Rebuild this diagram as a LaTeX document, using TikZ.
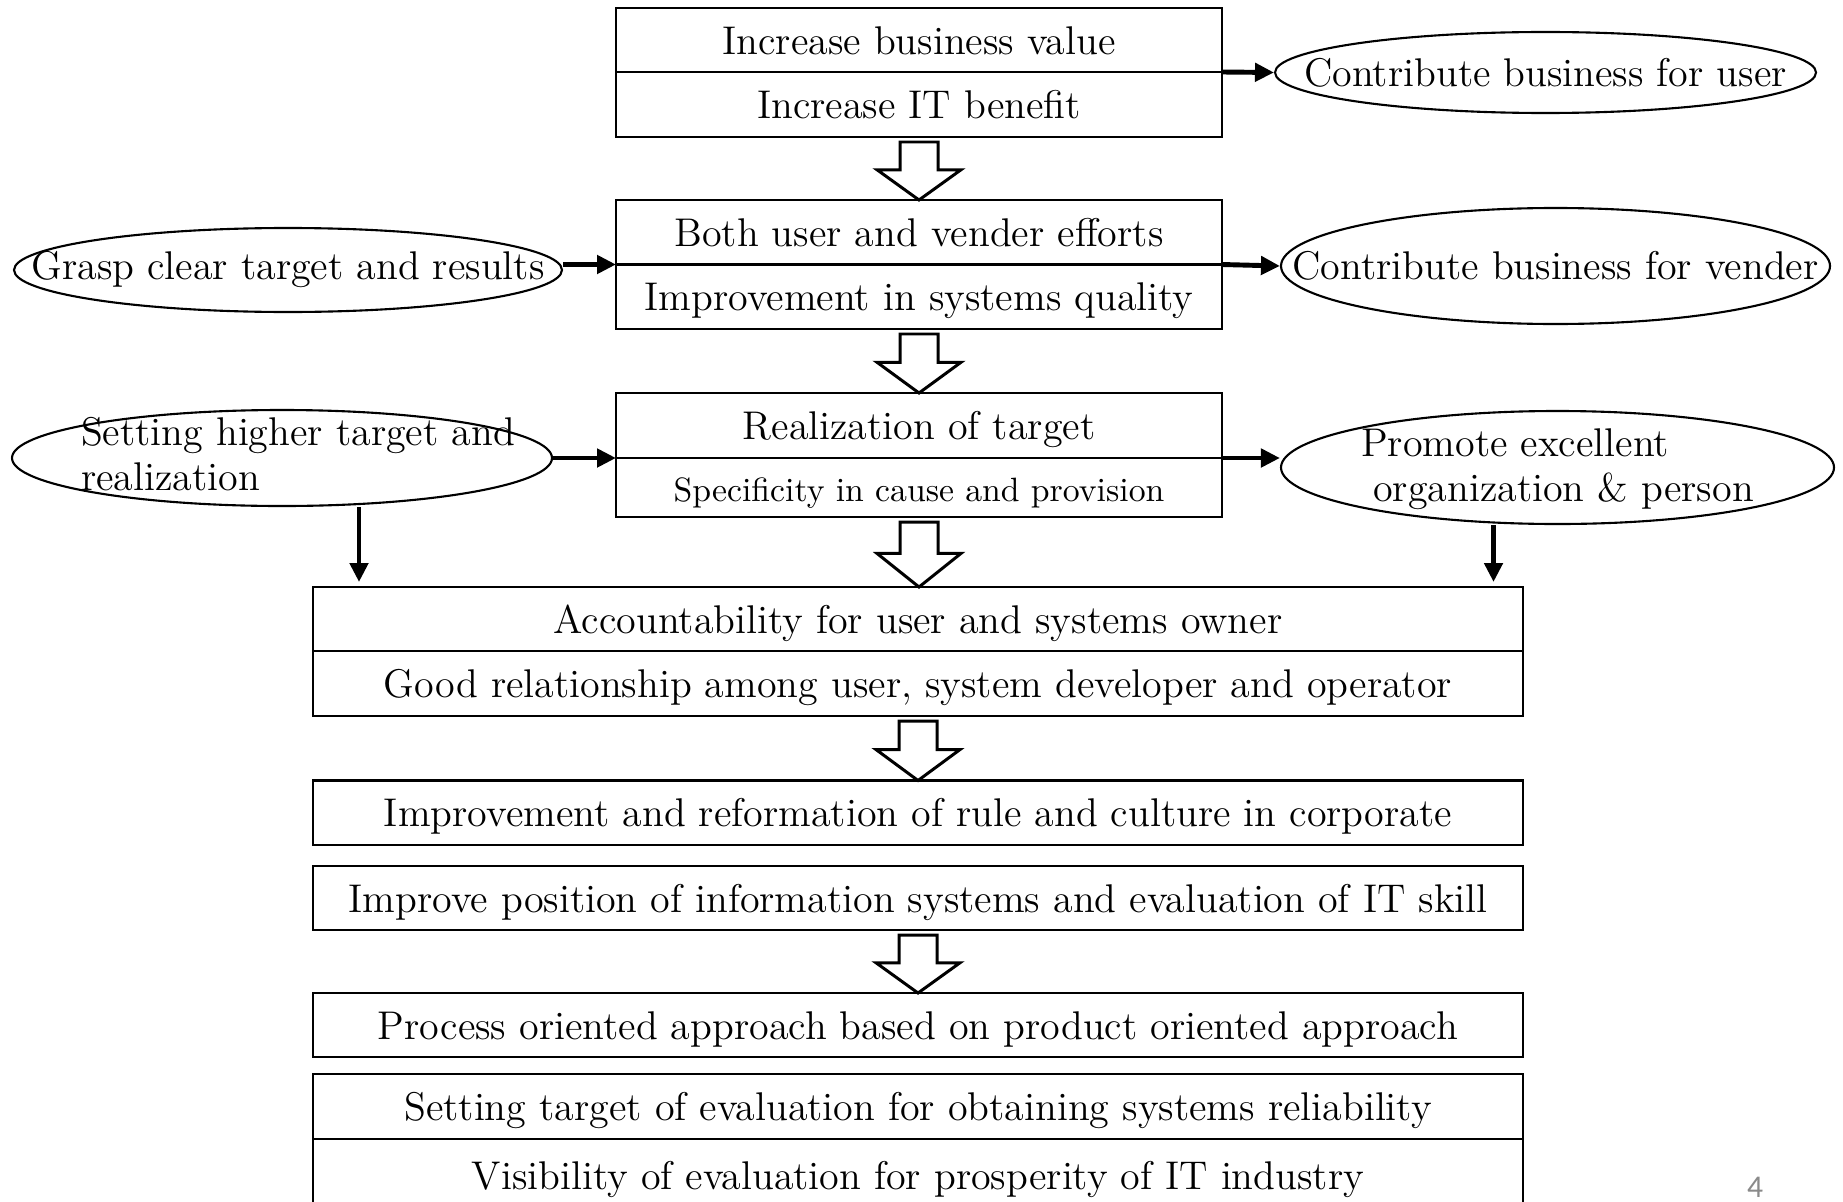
\documentclass[tikz,border=0pt]{standalone}
\usepackage{fontspec}
\newfontfamily\slidefont{Carlito}
\usetikzlibrary{arrows.meta,positioning,shapes.geometric,calc}

\tikzset{
  cell/.style={draw, rectangle, line width=0.6pt, minimum width=6.06cm,
               inner sep=0pt, outer sep=0pt, text height=0.9em, text depth=0.1em,
               font=\fontsize{11.4pt}{12.8pt}\selectfont},
  widecell/.style={cell, minimum width=12.10cm},
  oval/.style={draw, ellipse, line width=0.6pt, inner sep=0pt,
               font=\fontsize{11.4pt}{12.8pt}\selectfont},
  conn/.style={line width=1.4pt, -{Triangle[length=0.19cm,width=0.18cm]}},
  hollow/.style={line width=0.85pt, to path={
      let \p1=(\tikztostart), \p2=(\tikztotarget),
          \p3=($(\tikztostart)!0.52!(\tikztotarget)$) in
      (\x1-0.19cm,\y1-0.05cm) -- (\x1-0.19cm,\y3) -- (\x1-0.42cm,\y3) -- (\x1,\y2)
      -- (\x1+0.42cm,\y3) -- (\x1+0.19cm,\y3) -- (\x1+0.19cm,\y1-0.05cm) -- cycle}}
}

\begin{document}
\begin{tikzpicture}
\useasboundingbox (0,0) rectangle (18.43,-12.01);

% upper column
\begin{scope}[every node/.style={cell}]
    \node[minimum height=0.64cm] (b1a) at (9.19,-0.40) {Increase business value};
    \node[minimum height=0.65cm, below=0pt of b1a] (b1b) {Increase IT benefit};
    \node[minimum height=0.645cm] (b2a) at (9.19,-2.3225) {Both user and vender efforts};
    \node[minimum height=0.645cm, below=0pt of b2a] (b2b) {Improvement in systems quality};
    \node[minimum height=0.65cm] (b3a) at (9.19,-4.255) {Realization of target};
    \node[minimum height=0.59cm, below=0pt of b3a,
          font=\fontsize{9.6pt}{11pt}\selectfont] (b3b) {Specificity in cause and provision};
\end{scope}

% lower column
\begin{scope}[every node/.style={widecell}]
    \node[minimum height=0.64cm] (b4a) at (9.18,-6.19) {Accountability for user and systems owner};
    \node[minimum height=0.65cm, below=0pt of b4a] (b4b) {Good relationship among user, system developer and operator};
    \node[minimum height=0.645cm] (b5) at (9.18,-8.1275) {Improvement and reformation of rule and culture in corporate};
    \node[minimum height=0.64cm] (b6) at (9.18,-8.98) {Improve position of information systems and evaluation of IT skill};
    \node[minimum height=0.64cm] (b7) at (9.18,-10.25) {Process oriented approach based on product oriented approach};
    \node[minimum height=0.65cm] (b8a) at (9.18,-11.065) {Setting target of evaluation for obtaining systems reliability};
    \node[minimum height=0.72cm, below=0pt of b8a] (b8b) {Visibility of evaluation for prosperity of IT industry};
\end{scope}

% side ovals
\begin{scope}[every node/.style={oval}]
    \node[minimum width=5.41cm, minimum height=0.81cm] (cu) at (15.455,-0.725)
        {\makebox[0pt]{Contribute business for user}};
    \node[minimum width=5.48cm, minimum height=0.84cm] (gc) at (2.88,-2.70)
        {\makebox[0pt]{Grasp clear target and results}};
    \node[minimum width=5.49cm, minimum height=1.16cm] (cv) at (15.555,-2.66)
        {\makebox[0pt]{Contribute business for vender}};
    \node[minimum width=5.40cm, minimum height=0.96cm] (sh) at (2.82,-4.58)
        {\makebox[0pt]{\hspace{0.32cm}\smash{\raisebox{-0.105cm}{\begin{tabular}{@{}l@{}}Setting higher target and\\realization\end{tabular}}}}};
    \node[minimum width=5.53cm, minimum height=1.13cm] (pe) at (15.575,-4.675)
        {\makebox[0pt]{\smash{\raisebox{-0.12cm}{\begin{tabular}{@{}l@{}}Promote excellent\\\hspace{0.12cm}organization \& person\end{tabular}}}}};
\end{scope}

\begin{scope}[every edge/.style={draw}]
    \path (b1b.south) edge[hollow] (b2a.north);
    \path (b2b.south) edge[hollow] (b3a.north);
    \path (b3b.south) edge[hollow] (b4a.north);
    \path (b4b.south) edge[hollow] (b5.north);
    \path (b6.south) edge[hollow] (b7.north);

    \path (b1a.south east) edge[conn] (cu.west);
    \path (b2a.south west -| gc.east) edge[conn] (b2a.south west);
    \path (b2a.south east) edge[conn] (cv.west);
    \path (sh.east) edge[conn] (sh.east -| b3a.west);
    \path (b3a.south east) edge[conn] (b3a.south east -| pe.west);
    \path ([xshift=0.77cm]sh.south) edge[conn, shorten >=0.05cm] ([xshift=0.77cm]sh.south |- b4a.north);
    \path ([xshift=-0.64cm]pe.south) edge[conn, shorten >=0.05cm] ([xshift=-0.64cm]pe.south |- b4a.north);
\end{scope}

\node[font=\slidefont\fontsize{9pt}{10pt}\selectfont, text=black!46,
      anchor=base, inner sep=0pt] (pg) at (17.55,-11.975) {4};
\end{tikzpicture}
\end{document}
